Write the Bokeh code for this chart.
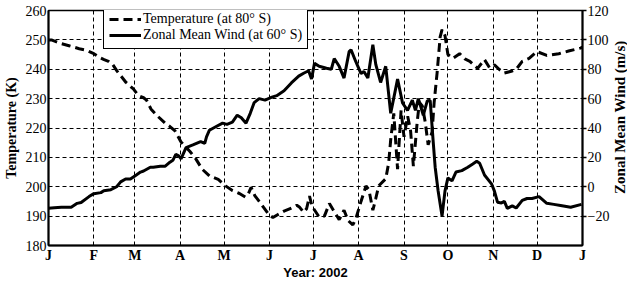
import math
from bokeh.plotting import figure
from bokeh.layouts import row
from bokeh.models import (LinearAxis, Range1d, FixedTicker, Legend, LegendItem, Label)
from bokeh.embed import file_html
from bokeh.resources import INLINE

# ---- axes / ticks ----
month_ticks = [0, 31, 59, 90, 120, 151, 181, 212, 243, 273, 304, 334, 365]
month_labels = ["J", "F", "M", "A", "M", "J", "J", "A", "S", "O", "N", "D", "J"]
temp_ticks = [180, 190, 200, 210, 220, 230, 240, 250, 260]
wind_ticks = [-20, 0, 20, 40, 60, 80, 100, 120]

# ---- Temperature at 80 S (K), day of year ----
temp_day = [0, 2, 8.8, 14, 21, 25.7, 31, 35, 38, 41, 44, 47, 53, 58, 61.5, 65, 67, 70, 74,
            80, 83, 86.5, 90.5, 96.7, 100.7, 105, 110, 113.5, 116, 121, 125.7, 130.5, 134.5,
            136.5, 138.5, 141, 144, 147, 150.7, 153.4, 156, 161, 166, 169.7, 171.7, 174.4,
            176.4, 178.4, 179.8, 181, 185, 188.6, 192, 195.3, 198.7, 202, 204.8, 208, 210,
            213.6, 217, 219, 221.7, 223.7, 225.7, 230.5, 232.5, 233.9, 236, 238.6, 241,
            243, 245.5, 247.5, 249.4, 252, 253.5, 255.5, 257.5, 259.5, 262.2, 263.6, 265.6,
            267.7, 269, 271, 273, 276.4, 281, 284.6, 288, 293.3, 298, 301.5, 304.8, 308,
            311.6, 316.3, 319.7, 323.8, 328.5, 333.9, 340.6, 348.8, 355.5, 363.6, 365]
temp_val = [250, 250, 248.7, 248, 247, 246.5, 245.3, 244, 243.3, 242.7, 241.5, 239.3, 235.5,
            233.3, 231, 230.3, 229.5, 226.5, 224.3, 221.5, 220.5, 219, 215.3, 212, 209.5,
            206, 203.7, 203, 202.5, 200.3, 198.7, 197.7, 196.5, 197.5, 199.8, 197, 195,
            193, 190.5, 189.5, 190.3, 191.7, 192.7, 193.7, 193, 191.3, 192.5, 196.8, 194,
            192.7, 189.7, 190, 194.3, 191.5, 188.8, 192, 188.5, 187, 189, 195, 200.3, 199,
            192, 196, 200.3, 202.7, 208, 216, 225, 206, 226, 217, 224, 219, 207, 222, 228.7,
            227.5, 222, 214.3, 218.7, 228.7, 238.7, 251, 253.5, 251.5, 245, 243.7, 245.3,
            243.5, 242.7, 240.3, 243.3, 240.5, 241.5, 240, 238.7, 239.3, 240, 242.7, 243.7,
            246, 244.7, 245.3, 246.2, 247.2, 247.5]

# ---- Zonal mean wind at 60 S (m/s), day of year ----
wind_day = [0, 4, 8.8, 15.5, 19.6, 22.3, 27.7, 31, 35.8, 37.8, 42.6, 46.6, 49.3, 52.7, 56, 60,
            62.9, 65, 69.6, 71.6, 76.4, 79.8, 83, 85, 87, 89, 90.6, 94, 98.7, 104, 106.8, 108,
            110, 114, 119, 122, 125.7, 129, 131.8, 135, 137.9, 140.6, 144, 148, 152.7, 156,
            161, 166, 171, 174.4, 177.8, 179.8, 181.8, 185, 190, 193.3, 195.3, 198.7, 202,
            205.5, 206.8, 210, 213.6, 215.6, 218.3, 221.7, 223.7, 227, 230.5, 233.9, 238.6,
            242, 245.4, 248.7, 250.8, 252.8, 256.2, 258.9, 260.9, 263, 264.3, 266.3, 269,
            271, 273, 275.8, 278.5, 282.5, 286.6, 290, 292.7, 294.7, 298, 302.8, 304.8,
            306.9, 309.6, 311.6, 313.6, 317, 319.7, 323.8, 327.1, 330.5, 335.3, 340.6,
            345.4, 350, 356.9, 364.3]
wind_val = [-14.7, -14.3, -14, -14, -11.3, -10.7, -6.7, -4.7, -4, -2.7, -2, 0, 3.3, 5.3, 5.3,
            8, 10, 10.7, 13.3, 13.3, 14, 14, 16.7, 18, 22, 21, 19, 26.7, 28.5, 30.7, 29.5, 34,
            38.5, 40.7, 43.3, 42.5, 44, 48.7, 47, 43.3, 50, 57.3, 60, 59, 61, 62, 65.3, 70.7,
            75.3, 77.3, 79, 73.3, 84, 82, 80.7, 80, 87.3, 82, 74, 92, 93.3, 85.3, 77, 78.5, 74,
            96.7, 83.3, 71, 82, 50, 73.3, 57, 52, 59, 52, 60, 48.7, 58.5, 58.7, 30, 13.3, -2.7,
            -20, -3, 6, 4, 10, 11, 13.3, 15.5, 17.3, 16, 8, 2, -3, -10.5, -11, -10, -14.7, -13,
            -14.5, -9.3, -8, -8, -6.7, -11.3, -12, -12.7, -14, -12]

SERIF = "Liberation Serif"
SANS = "Liberation Sans"

W, H = 612, 282          # main figure
W2 = 15                  # strip holding the right-hand axis title
ML, MR, MT, MB = 48, 27, 10, 36
FW, FH = W - ML - MR, H - MT - MB

p = figure(width=W, height=H, output_backend="svg", toolbar_location=None,
           x_range=Range1d(0, 365), y_range=Range1d(180, 260),
           min_border_left=ML, min_border_right=MR, min_border_top=MT, min_border_bottom=MB,
           background_fill_color="white", border_fill_color="white")
p.extra_y_ranges = {"wind": Range1d(-40, 120)}
p.outline_line_color = "black"
p.outline_line_width = 1.5
p.outline_line_alpha = 1

# bottom axis
xa = p.xaxis[0]
xa.ticker = FixedTicker(ticks=month_ticks)
xa.major_label_overrides = {t: l for t, l in zip(month_ticks, month_labels)}
xa.major_label_text_font = SERIF
xa.major_label_text_font_style = "bold"
xa.major_label_text_font_size = "14px"
xa.major_label_text_color = "black"
xa.major_label_standoff = 2
xa.major_tick_in = 0
xa.major_tick_out = 0
xa.minor_tick_in = 0
xa.minor_tick_out = 0
xa.axis_line_width = 2
xa.axis_line_color = "black"
xa.axis_label = "Year: 2002"
xa.axis_label_text_font = SANS
xa.axis_label_text_font_style = "bold"
xa.axis_label_text_font_size = "13px"
xa.axis_label_text_color = "black"
xa.axis_label_standoff = -1

# left axis
ya = p.yaxis[0]
ya.ticker = FixedTicker(ticks=temp_ticks)
ya.major_label_text_font = SERIF
ya.major_label_text_font_size = "14px"
ya.major_label_text_color = "black"
ya.major_label_standoff = 2
ya.major_tick_in = 0
ya.major_tick_out = 0
ya.minor_tick_in = 0
ya.minor_tick_out = 0
ya.axis_line_width = 2
ya.axis_line_color = "black"
ya.axis_label = "Temperature (K)"
ya.axis_label_text_font = SERIF
ya.axis_label_text_font_style = "bold"
ya.axis_label_text_font_size = "14px"
ya.axis_label_text_color = "black"
ya.axis_label_standoff = 4

# right axis
ra = LinearAxis(y_range_name="wind", ticker=FixedTicker(ticks=wind_ticks))
ra.major_label_text_font = SERIF
ra.major_label_text_font_size = "14px"
ra.major_label_text_color = "black"
ra.major_label_standoff = 1
ra.major_tick_in = 0
ra.major_tick_out = 4
ra.major_tick_line_width = 1.5
ra.minor_tick_in = 0
ra.minor_tick_out = 0
ra.axis_line_width = 2
ra.axis_line_color = "black"
p.add_layout(ra, "right")

# grid
p.xgrid.ticker = FixedTicker(ticks=month_ticks[1:-1])
p.ygrid.ticker = FixedTicker(ticks=temp_ticks[1:-1])
for g in (p.xgrid[0], p.ygrid[0]):
    g.grid_line_color = "black"
    g.grid_line_alpha = 1
    g.grid_line_width = 1
    g.grid_line_dash = "4 3"

rt = p.line(temp_day, temp_val, line_color="black", line_width=3, line_dash="9 5")
rw = p.line(wind_day, wind_val, y_range_name="wind", line_color="black", line_width=3)

legend = Legend(items=[LegendItem(label="Temperature (at 80° S)", renderers=[rt]),
                       LegendItem(label="Zonal Mean Wind (at 60° S)", renderers=[rw])],
                location=(55, FH - 40),
                label_text_font=SERIF, label_text_font_size="14px", label_text_color="black",
                glyph_width=32, glyph_height=12, label_height=12, label_standoff=2,
                padding=5, spacing=0, margin=0,
                border_line_color="black", border_line_width=1.5, border_line_alpha=1,
                background_fill_color="white", background_fill_alpha=1)
p.add_layout(legend)

# narrow strip to the right carrying the right-hand axis title (reads bottom-to-top)
p2 = figure(width=W2, height=H, output_backend="svg", toolbar_location=None,
            x_range=Range1d(0, 1), y_range=Range1d(0, H),
            x_axis_type=None, y_axis_type=None, min_border=0,
            background_fill_color="white", border_fill_color="white")
p2.outline_line_color = None
p2.grid.visible = False
p2.add_layout(Label(x=0.5, y=MB + FH / 2, text="Zonal Mean Wind (m/s)", angle=math.pi / 2,
                    text_align="center", text_baseline="middle",
                    text_font=SERIF, text_font_style="bold", text_font_size="15px",
                    text_color="black"))

layout = row(p, p2, spacing=0)
open("out.html", "w").write(file_html(layout, INLINE))
